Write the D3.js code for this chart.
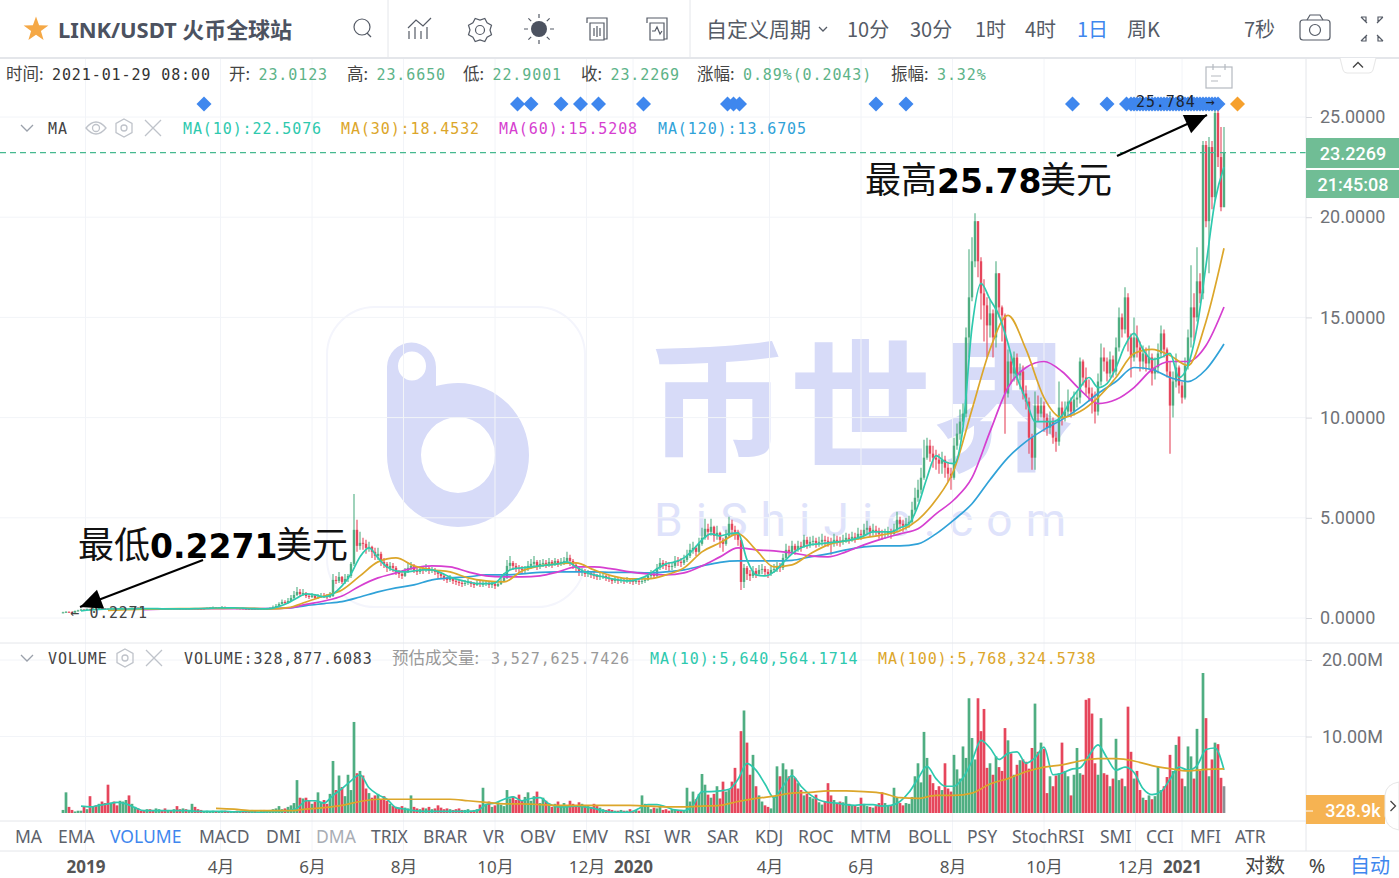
<!DOCTYPE html>
<html><head><meta charset="utf-8"><style>html,body{margin:0;padding:0;background:#fff;overflow:hidden}svg{display:block}</style>
<script src="https://cdn.jsdelivr.net/npm/d3@7/dist/d3.min.js"></script></head><body><div id="c"></div>
<script>
// two-day bars (one row = 20 bars)
const closes=[
.28,.31,.30,.27,.35,.38,.42,.40,.44,.42,.47,.44,.50,.48,.46,.44,.47,.43,.42,.44,
.45,.48,.46,.50,.52,.48,.46,.44,.46,.45,.44,.46,.47,.46,.45,.47,.46,.47,.46,.45,
.46,.45,.47,.48,.47,.46,.45,.47,.50,.52,.54,.50,.52,.55,.53,.50,.52,.49,.47,.48,
.46,.45,.44,.45,.44,.45,.46,.45,.46,.50,.55,.60,.70,.80,.75,.85,1.00,1.15,1.30,1.20,
1.25,1.10,1.05,1.12,1.00,1.05,1.10,1.08,1.05,1.10,1.90,1.85,2.05,1.80,1.95,2.10,2.70,4.40,3.60,3.75,
3.7,3.5,3.55,3.3,3.1,3.2,2.8,2.7,2.5,2.6,2.5,2.3,2.2,2.1,2.35,2.5,2.6,2.4,2.3,2.45,
2.4,2.5,2.35,2.4,2.3,2.2,2.1,2.0,1.9,2.0,1.85,1.8,1.75,1.7,1.75,1.8,1.7,1.65,1.75,1.7,
1.7,1.75,1.65,1.7,1.6,1.7,1.85,2.0,2.6,2.75,2.6,2.5,2.45,2.4,2.45,2.6,2.7,2.8,2.6,2.7,
2.75,2.7,2.8,2.65,2.85,2.7,2.8,2.85,3.0,2.85,2.65,2.5,2.3,2.35,2.2,2.25,2.15,2.1,2.05,2.1,
2.1,2.0,1.95,1.85,1.9,1.85,1.9,1.85,1.9,1.85,1.8,1.85,1.8,1.85,1.9,2.1,2.2,2.1,2.5,2.75,
2.65,2.6,2.55,2.6,2.85,2.8,2.75,2.9,3.1,3.4,3.5,3.3,3.7,4.0,4.45,4.3,4.55,4.1,4.25,3.9,
3.7,4.1,4.7,4.4,4.3,3.9,1.8,2.5,2.2,2.1,2.35,2.2,2.4,2.45,2.3,2.2,2.4,2.45,2.55,2.5,
3.0,3.4,3.3,3.6,3.4,3.6,3.55,3.9,3.7,3.8,3.85,3.75,3.8,3.9,3.85,3.8,3.75,3.9,3.85,3.8,
3.9,4.0,3.95,4.05,4.0,4.2,4.15,4.4,4.5,4.3,4.4,4.35,4.2,4.15,4.2,4.3,4.2,4.4,4.9,4.7,
4.6,4.7,4.8,5.4,6.0,6.4,7.0,8.0,8.6,8.2,8.0,7.9,7.7,7.9,7.5,7.2,7.0,8.6,9.2,9.8,
10.2,14.0,16.0,17.8,19.8,17.8,16.2,15.6,14.6,15.2,14.0,17.2,15.5,15.1,11.2,12.8,12.2,13.0,12.1,12.3,
11.2,10.8,9.0,8.0,10.6,10.2,10.6,10.0,9.5,9.8,9.0,8.8,10.5,10.0,10.3,10.8,10.3,10.9,11.0,12.8,
12.0,11.5,11.2,10.8,10.3,11.8,13.0,12.8,12.2,12.9,12.3,13.5,15.0,14.4,16.0,14.0,13.0,14.0,13.5,12.8,
13.2,12.7,13.0,12.2,12.5,13.2,14.2,13.4,12.3,10.6,11.8,12.5,11.6,11.0,12.6,14.0,15.5,15.0,16.8,16.2,
23.6,19.8,23.5,21.0,25.2,23.0,20.5,23.2269];
const highs=[
.31,.34,.33,.32,.38,.41,.46,.44,.47,.46,.52,.48,.56,.52,.50,.47,.50,.47,.45,.46,
.47,.50,.49,.52,.55,.53,.49,.47,.48,.47,.46,.48,.49,.48,.47,.49,.48,.49,.48,.47,
.48,.47,.49,.50,.49,.48,.47,.49,.53,.55,.58,.55,.54,.60,.57,.54,.55,.53,.50,.50,
.49,.47,.46,.47,.46,.47,.48,.47,.48,.54,.62,.70,.78,.92,.88,1.0,1.15,1.35,1.55,1.45,
1.45,1.3,1.2,1.25,1.2,1.2,1.25,1.25,1.2,1.3,2.2,2.1,2.3,2.1,2.2,2.2,2.8,6.19,4.9,4.3,
4.0,3.9,3.8,3.6,3.5,3.5,3.3,3.0,2.8,2.8,2.75,2.6,2.4,2.3,2.5,2.75,2.8,2.7,2.5,2.6,
2.6,2.7,2.55,2.55,2.5,2.4,2.3,2.2,2.05,2.15,2.05,1.95,1.9,1.85,1.9,1.95,1.85,1.8,1.9,1.85,
1.85,1.9,1.8,1.85,1.75,1.85,2.0,2.25,2.9,3.1,2.85,2.75,2.65,2.6,2.6,2.85,2.95,3.1,2.9,2.9,
2.95,2.9,3.0,2.9,3.0,2.95,3.0,3.05,3.3,3.15,2.95,2.75,2.6,2.5,2.45,2.4,2.35,2.3,2.2,2.25,
2.25,2.15,2.1,2.0,2.05,2.0,2.05,2.0,2.05,2.0,1.95,2.0,1.95,2.0,2.05,2.3,2.4,2.3,2.7,3.0,
2.9,2.85,2.8,2.8,3.1,3.05,3.0,3.15,3.4,3.7,3.8,3.6,4.0,4.5,4.95,4.7,4.95,4.6,4.6,4.3,
4.0,4.4,5.05,4.9,4.6,4.4,3.9,2.7,2.6,2.4,2.6,2.5,2.65,2.7,2.6,2.45,2.65,2.7,2.8,2.75,
3.2,3.7,3.6,3.85,3.7,3.85,3.8,4.15,4.05,4.05,4.1,4.0,4.05,4.2,4.1,4.05,4.0,4.2,4.1,4.05,
4.15,4.25,4.2,4.3,4.25,4.5,4.4,4.7,4.85,4.6,4.7,4.6,4.5,4.4,4.45,4.55,4.45,4.7,5.3,5.05,
4.9,5.0,5.1,5.8,6.5,6.9,7.5,8.9,9.0,8.9,8.6,8.4,8.2,8.3,8.1,7.8,7.5,9.0,9.7,10.4,
10.7,14.5,18.4,19.0,20.2,19.8,18.0,16.9,16.0,15.9,15.4,17.8,17.2,15.6,15.2,13.4,13.1,13.3,13.2,12.7,
12.6,11.6,11.0,9.2,11.3,11.1,11.0,10.8,10.2,10.3,10.0,9.3,11.8,10.8,10.8,11.4,11.0,11.3,11.3,13.0,
12.9,12.5,11.9,11.5,11.3,12.2,13.7,13.5,13.0,13.3,13.1,14.0,15.5,15.2,16.5,16.2,14.2,15.0,14.6,13.8,
13.6,13.5,13.6,13.2,13.0,13.7,14.6,14.4,13.5,12.8,12.3,13.2,12.6,11.8,13.0,14.4,17.6,16.2,18.5,17.2,
23.8,23.8,24.0,23.8,25.784,25.784,24.5,24.5];
const lows=[
.25,.26,.27,.2271,.26,.33,.36,.37,.39,.39,.40,.41,.43,.44,.43,.42,.42,.41,.40,.41,
.43,.44,.45,.45,.48,.46,.44,.42,.43,.43,.42,.43,.45,.44,.43,.44,.44,.45,.44,.43,
.44,.43,.44,.46,.45,.44,.43,.44,.46,.49,.51,.48,.49,.51,.50,.48,.49,.47,.45,.46,
.44,.43,.42,.43,.42,.43,.44,.43,.44,.45,.48,.53,.58,.68,.68,.72,.84,.95,1.1,1.05,
1.1,1.0,.95,1.0,.95,.95,1.0,1.0,.95,1.0,1.05,1.7,1.75,1.7,1.7,1.8,2.0,2.6,3.3,3.4,
3.4,3.2,3.3,3.0,2.9,2.9,2.6,2.5,2.3,2.35,2.3,2.15,2.0,1.95,2.05,2.25,2.4,2.25,2.15,2.2,
2.2,2.3,2.2,2.25,2.15,2.0,1.95,1.85,1.75,1.8,1.7,1.65,1.6,1.55,1.6,1.65,1.55,1.5,1.6,1.55,
1.55,1.6,1.5,1.5,1.45,1.55,1.65,1.8,1.95,2.4,2.4,2.3,2.25,2.2,2.25,2.35,2.45,2.55,2.4,2.45,
2.55,2.5,2.55,2.5,2.6,2.55,2.6,2.65,2.75,2.6,2.45,2.3,2.1,2.1,2.05,2.05,2.0,1.95,1.9,1.9,
1.95,1.85,1.8,1.7,1.75,1.7,1.75,1.7,1.75,1.7,1.65,1.7,1.65,1.7,1.75,1.85,2.0,1.95,2.0,2.4,
2.45,2.4,2.35,2.4,2.5,2.6,2.55,2.65,2.8,3.0,3.2,3.1,3.2,3.6,3.9,3.9,4.1,3.8,3.9,3.5,
3.3,3.6,4.0,4.1,3.9,3.6,1.4,1.5,1.9,1.85,2.0,2.0,2.1,2.2,2.1,2.0,2.1,2.25,2.3,2.3,
2.4,2.9,3.05,3.2,3.15,3.3,3.3,3.5,3.45,3.5,3.6,3.5,3.55,3.6,3.6,3.55,3.15,3.55,3.6,3.55,
3.65,3.75,3.7,3.8,3.75,3.9,3.9,4.1,4.2,4.05,4.1,4.1,3.95,3.9,3.95,4.05,3.95,4.15,4.3,4.4,
4.3,4.4,4.5,4.7,5.3,5.8,6.2,6.9,7.9,7.8,7.5,7.4,7.2,7.2,7.0,6.8,6.4,6.9,8.4,8.9,
9.6,10.0,13.0,15.8,17.5,17.0,14.9,13.8,13.0,14.0,13.0,13.5,15.0,13.8,9.2,11.0,11.7,11.8,11.6,11.4,
10.9,10.4,8.2,7.4,7.4,9.8,10.0,9.3,9.1,9.2,8.7,8.3,8.6,9.6,9.8,10.1,10.0,10.1,10.5,10.7,
11.6,11.1,10.8,10.2,9.7,10.1,11.6,12.3,11.8,12.0,12.0,12.1,13.3,14.0,14.2,13.3,12.0,12.8,13.0,12.3,
12.4,12.3,12.4,11.6,11.9,12.2,13.0,13.0,12.0,8.2,10.0,11.5,11.2,10.7,10.9,12.4,13.5,13.8,14.8,15.7,
15.9,19.5,17.2,20.4,20.8,22.5,20.3,20.6];
const volumes=[
.4,2.7,.8,.4,.2,.3,.3,.8,.5,2.2,.9,1.0,1.2,1.5,1.3,3.7,1.3,1.5,1.0,1.6,
1.5,1.7,2.3,1.2,.8,.6,.3,.4,.5,.5,.4,.6,.5,.4,.6,.4,.3,.5,.9,.5,
.6,.5,.4,1.2,.8,.5,.4,.2,.3,.2,.3,.2,.2,.3,.3,.2,.2,.2,.3,.2,
.2,.2,.3,.4,.3,.2,.4,.4,.3,.4,.5,.6,.9,.5,.6,.8,1.0,1.3,4.3,2.0,
1.9,2.0,1.7,1.2,1.5,2.7,1.4,1.7,1.2,2.5,6.8,3.0,4.9,3.4,2.2,5.0,3.0,11.9,5.2,5.5,
4.9,3.2,2.6,2.0,2.3,2.5,1.8,2.2,1.6,1.2,.9,.8,.7,.9,.7,.6,2.3,.8,.6,.5,
.7,.6,.8,.5,.6,1.0,.7,.5,.6,.5,.4,.5,.6,.4,.4,.5,.3,.4,.5,1.1,
3.3,1.2,1.5,.8,1.0,1.4,1.1,.9,3.0,1.9,2.2,1.7,2.4,1.6,2.1,2.7,1.6,2.2,2.8,1.3,
2.0,1.6,1.1,.8,1.2,1.5,1.0,1.3,1.0,1.6,1.2,.9,1.4,1.2,1.0,.9,.8,1.2,.9,.7,
.5,.4,.5,.4,.3,.3,.4,.3,.3,.5,.3,.4,.3,2.3,1.2,.8,.5,.7,.6,.8,
.4,.5,.3,.5,.4,.3,.4,.3,3.3,1.5,2.8,1.8,2.5,5.1,3.7,2.4,2.0,2.5,3.5,1.9,
4.1,2.8,3.0,4.1,5.9,3.2,10.7,13.4,9.2,5.0,7.6,3.5,2.3,1.5,1.0,.8,.6,2.0,6.1,4.8,
6.5,5.7,4.8,5.7,4.6,3.9,3.0,2.3,2.5,2.1,1.9,2.4,1.4,1.1,1.5,3.9,2.3,1.7,1.3,1.5,
1.4,2.2,1.2,1.0,1.0,.8,2.0,1.2,.9,.8,.7,.9,1.3,2.7,1.3,1.0,1.0,3.3,2.0,1.3,
1.0,1.3,1.2,2.1,4.8,6.5,4.0,10.6,7.2,5.0,3.9,3.0,3.5,3.0,6.5,3.2,2.8,7.6,5.7,4.5,
8.7,7.2,15.0,9.8,7.0,15.0,10.7,13.6,5.9,6.5,5.0,7.4,6.0,5.5,11.1,9.5,7.8,5.0,6.3,6.9,
7.0,6.7,5.8,8.5,14.3,8.0,9.2,8.4,2.6,4.8,3.5,4.9,5.2,9.2,5.5,4.8,2.3,5.0,8.5,5.2,
5.0,14.8,15.0,13.0,6.5,5.0,12.4,5.2,5.0,3.5,4.5,9.7,4.3,4.5,3.5,13.9,8.0,4.5,5.5,3.0,
2.0,1.7,2.3,1.8,2.2,6.1,3.0,3.5,4.7,7.6,5.5,8.9,10.0,4.5,3.5,8.7,7.4,4.5,11.0,5.5,
18.3,12.4,4.8,7.0,9.2,9.0,4.6,3.5];
// moving averages, one reading every 6 days (ma10) or 12 days (others), ending at the last bar
const ma10=[
.36,.40,.43,.45,.46,.45,.46,.47,.47,.46,
.46,.46,.46,.47,.48,.50,.51,.51,.49,.47,
.46,.47,.58,.75,1.0,1.2,1.15,1.05,1.2,1.6,
2.2,3.05,3.5,3.0,2.55,2.35,2.3,2.35,2.4,2.4,
2.25,2.05,1.9,1.8,1.72,1.72,1.75,2.2,2.45,2.5,
2.55,2.6,2.65,2.7,2.8,2.55,2.3,2.15,2.05,1.95,
1.88,1.85,1.95,2.15,2.45,2.7,2.8,3.0,3.4,3.9,
4.2,4.1,4.2,4.25,2.9,2.15,2.1,2.3,2.75,3.2,
3.5,3.65,3.7,3.75,3.8,3.85,3.95,4.1,4.3,4.3,
4.3,4.5,4.7,5.6,7.0,8.1,7.8,7.7,9.5,14.5,
16.7,15.9,15.1,13.7,12.0,10.9,9.8,9.8,9.8,10.1,
10.9,11.5,12.0,11.5,11.7,12.5,13.6,14.2,13.4,12.9,
13.0,13.2,12.0,12.6,14.5,17.6,20.8,22.5076];
const ma30=[
.38,.42,.44,.46,.47,.47,.48,.49,.48,
.46,.52,.8,1.1,1.4,2.1,2.8,3.0,2.6,
2.4,2.3,2.0,1.85,1.8,2.35,2.6,2.7,2.75,
2.4,2.1,1.95,1.95,2.15,2.5,3.3,3.75,4.2,
3.4,2.55,2.65,3.2,3.65,3.85,4.0,4.15,4.35,
4.9,5.9,7.4,10.4,13.4,15.1,13.4,11,10.0,
10.3,11.0,12.0,13.2,13.4,13.1,12.6,14.8,18.4532];
const ma60=[
.42,.44,.46,.46,.47,.47,.47,
.47,.49,.68,.85,1.1,1.6,2.0,2.25,2.5,
2.6,2.55,2.3,2.1,2.05,2.05,2.1,2.3,2.55,
2.55,2.45,2.3,2.2,2.15,2.25,2.6,3.05,3.5,
3.4,3.35,3.25,3.1,3.05,3.3,3.65,3.95,4.2,
4.45,5.2,5.9,7.0,9.3,11.5,12.5,12.8,12.3,
11.4,10.7,10.9,11.5,12.4,12.8,12.8,13.6,15.5208];
const ma120=[
.46,
.47,.50,.62,.72,.82,1.05,1.3,1.5,1.65,
1.9,2.0,2.05,2.15,2.15,2.2,2.28,2.3,2.3,
2.3,2.28,2.28,2.25,2.3,2.4,2.6,2.78,2.85,
2.85,2.85,2.88,3.05,3.2,3.4,3.55,3.6,3.6,
3.7,4.2,4.9,5.7,6.9,8.0,8.8,9.4,9.9,
10.5,11.2,11.8,12.5,12.4,12.0,11.8,12.4,13.6705];
const volMa10=[
.9,.8,1.0,1.2,1.4,1.2,.7,.3,.3,.3,
.3,.3,.3,.2,.2,.2,.2,.15,.2,.15,
.1,.2,.2,.3,.6,1.6,1.6,1.3,2.3,3.2,
4.2,5.0,3.3,2.4,1.8,.7,.5,.3,.2,.2,
.2,.2,.2,.2,.3,1.1,1.3,1.8,2.1,1.6,
1.9,2.0,1.2,.8,.8,.9,.8,.6,.3,.1,
.1,.1,.6,1.1,1.1,.8,.4,.3,1.0,2.8,
2.8,2.9,3.1,4.4,6.5,5.6,3.8,2.0,3.5,4.9,
3.5,2.4,1.7,1.4,1.3,1.1,1.0,1.1,1.1,.9,
1.0,1.5,2.7,4.5,6.1,4.5,3.5,3.5,4.6,6.8,
9.5,8.5,7.0,7.8,8.0,6.5,7.2,8.6,5.0,5.2,
5.7,5.9,7.5,8.9,7.2,5.6,6.0,5.3,3.2,2.4,
2.8,4.4,6.0,5.6,6.2,8.3,8.5,5.64];
const volMa100=[
.6,.5,.3,.3,.3,.5,.7,1.0,1.5,1.8,
1.8,1.8,1.8,1.8,1.6,1.4,1.2,1.2,1.1,1.0,
1.0,1.0,1.0,1.0,.9,.8,.8,.9,1.0,1.5,
1.9,2.2,2.6,2.7,2.9,2.9,2.8,2.6,2.0,1.9,
2.3,2.3,2.6,3.8,4.5,5.4,6.0,6.3,6.8,7.1,
7.1,6.8,6.2,5.8,5.5,5.7,5.77];
const priceTicks=[0,5,10,15,20,25];
const volumeTicks=[10,20];
const timeTicks=["2019-01-01","2019-04-01","2019-06-01","2019-08-01","2019-10-01","2019-12-01","2020-01-01","2020-04-01","2020-06-01","2020-08-01","2020-10-01","2020-12-01","2021-01-01"];
const timeTickLabels=["2019","4月","6月","8月","10月","12月","2020","4月","6月","8月","10月","12月","2021"];
const eventDaysBeforeEnd=[680,471,462,442,429,417,387,331,327,323,232,212,101,78,65,62,60,58,56,54,52,50,48,46,44,42,40,38,36,34,32,30,28,26,24,22,20,18,16,14,12,10,8,6,4];
const upcomingEventDays=[-9];
const indicators=["MA","EMA","VOLUME","MACD","DMI","DMA","TRIX","BRAR","VR","OBV","EMV","RSI","WR","SAR","KDJ","ROC","MTM","BOLL","PSY","StochRSI","SMI","CCI","MFI","ATR"];
const indicatorLeft=[15,58,110,199,266,316,371,423,483,520,572,624,664,707,755,798,850,908,967,1012,1100,1146,1190,1235];
const periods=["自定义周期","10分","30分","1时","4时","1日","周K","7秒"];
const periodLeft=[706,847,910,975,1025,1077,1127,1244];
const infoRow=[["时间:","2021-01-29 08:00",6,"#333"],["开:","23.0123",229],["高:","23.6650",347],["低:","22.9001",463],["收:","23.2269",581],["涨幅:","0.89%(0.2043)",697],["振幅:","3.32%",891]];

const W=1399,H=878,UP="#4fae82",DOWN="#e6465c",GRID="#f2f4f8",LINE="#e4e6ea",WM="#d7dbf8";
const C={ma10:"#2ec9ae",ma30:"#dca62a",ma60:"#d63fd0",ma120:"#30a2d8"};
const MONO="'DejaVu Sans Mono',monospace",SANS="'Noto Sans','Noto Sans CJK SC',sans-serif",CJK="'Noto Sans CJK SC',sans-serif";
const svg=d3.select("#c").append("svg").attr("width",W).attr("height",H);
const parse=d3.utcParse("%Y-%m-%d"),start=parse("2018-12-17"),end=parse("2021-01-29");
const x=d3.scaleUtc().domain([start,end]).range([63,1224]);
const y=d3.scaleLinear().domain([0,25]).range([618,117]);
const yv=d3.scaleLinear().domain([0,20]).range([813,660]);
const barDate=i=>d3.utcDay.offset(start,i*2);
const opens=closes.map((c,i)=>i?closes[i-1]:.27);
const back=(step,n)=>i=>d3.utcDay.offset(end,-(n-1-i)*step);
function t(g,s,px,py,o={}){return g.append("text").text(s).attr("x",px).attr("y",py).attr("font-family",o.f||SANS).attr("font-size",o.s||18).attr("fill",o.c||"#555").attr("font-weight",o.w||400).attr("text-anchor",o.a||"start").attr("letter-spacing",o.ls||null);}

// watermark
const wm=svg.append("g");
wm.append("rect").attr("x",327).attr("y",307).attr("width",258).attr("height",300).attr("rx",48).attr("fill","none").attr("stroke","#f4f5fc").attr("stroke-width",2);
wm.append("path").attr("fill",WM).attr("fill-rule","evenodd").attr("d","M387 367a24.5 24.5 0 0 1 49 0v19q12-3 22-3a71 72 0 1 1-71 72Z M398 366a14 14.5 0 1 0 28 0a14 14.5 0 1 0-28 0Z M421 455a37 38 0 1 0 74 0a37 38 0 1 0-74 0Z");
t(wm,"币世界",646,460,{f:CJK,s:143,c:WM,w:700});
t(wm,"BiShiJie.com",654,536,{f:"Roboto,sans-serif",s:46,c:"#dfe3fb"}).attr("textLength",412);

// grids
const grid=svg.append("g").attr("stroke",GRID);
grid.selectAll(".v").data(timeTicks).join("line").attr("x1",d=>x(parse(d))).attr("x2",d=>x(parse(d))).attr("y1",58).attr("y2",851);
grid.selectAll(".h").data(priceTicks).join("line").attr("x1",0).attr("x2",1306).attr("y1",d=>y(d)).attr("y2",d=>y(d));
grid.selectAll(".hv").data(volumeTicks).join("line").attr("x1",0).attr("x2",1306).attr("y1",d=>yv(d)).attr("y2",d=>yv(d));

// volume
const bw=2.7,isUp=i=>closes[i]>=opens[i];
svg.append("g").selectAll("rect").data(volumes).join("rect")
 .attr("x",(d,i)=>x(barDate(i))-bw/2).attr("width",bw).attr("y",d=>yv(d)).attr("height",d=>yv(0)-yv(d))
 .attr("fill",(d,i)=>i===volumes.length-1?"#8b8f94":isUp(i)?UP:DOWN);
const ln=(g,arr,step,sc,col,w=1.7)=>{const dt=back(step,arr.length);
 g.append("path").attr("fill","none").attr("stroke",col).attr("stroke-width",w).attr("stroke-linejoin","round")
 .attr("d",d3.line().x((d,i)=>x(dt(i))).y(d=>sc(d)).curve(d3.curveMonotoneX)(arr));};
const vl=svg.append("g");ln(vl,volMa10,6,yv,C.ma10);ln(vl,volMa100,12,yv,C.ma30);

// candles
const cg=svg.append("g");
cg.selectAll("line").data(closes).join("line").attr("x1",(d,i)=>x(barDate(i))).attr("x2",(d,i)=>x(barDate(i)))
 .attr("y1",(d,i)=>y(Math.max(highs[i],d,opens[i]))).attr("y2",(d,i)=>y(Math.min(lows[i],d,opens[i])))
 .attr("stroke",(d,i)=>isUp(i)?UP:DOWN).attr("stroke-width",1.1);
cg.selectAll("rect").data(closes).join("rect").attr("x",(d,i)=>x(barDate(i))-1.2).attr("width",2.4)
 .attr("y",(d,i)=>y(Math.max(d,opens[i]))).attr("height",(d,i)=>Math.max(1,Math.abs(y(d)-y(opens[i]))))
 .attr("fill",(d,i)=>isUp(i)?UP:DOWN);
const ml=svg.append("g");ln(ml,ma120,12,y,C.ma120);ln(ml,ma60,12,y,C.ma60);ln(ml,ma30,12,y,C.ma30);ln(ml,ma10,6,y,C.ma10);

// last price line
svg.append("line").attr("x1",0).attr("x2",1306).attr("y1",y(23.2269)).attr("y2",y(23.2269)).attr("stroke","#45b98f").attr("stroke-width",1.3).attr("stroke-dasharray","6,4");

// event diamonds
const dg=svg.append("g");
dg.selectAll(".b").data(eventDaysBeforeEnd).join("path").attr("d","M0-7.5L7.5 0L0 7.5L-7.5 0Z").attr("fill","#3f87ee").attr("transform",d=>`translate(${x(d3.utcDay.offset(end,-d))},104)`);
dg.selectAll(".o").data(upcomingEventDays).join("path").attr("d","M0-7.5L7.5 0L0 7.5L-7.5 0Z").attr("fill","#f6a02c").attr("transform",d=>`translate(${x(d3.utcDay.offset(end,-d))},104)`);

// frame
const fr=svg.append("g").attr("stroke",LINE);
[[0,58,1399,58],[0,643,1399,643],[0,821,1306,821],[0,851,1399,851],[1306,58,1306,851],[388,0,388,58],[690,0,690,58]].forEach(a=>fr.append("line").attr("x1",a[0]).attr("y1",a[1]).attr("x2",a[2]).attr("y2",a[3]).attr("stroke-width",a[1]===58&&a[3]===58?2:1));

// axes
function styleAxis(g){g.select(".domain").remove();g.selectAll(".tick line").attr("stroke","#d9dbe0");}
svg.append("g").attr("transform","translate(1306,0)").call(d3.axisRight(y).tickValues(priceTicks).tickSize(6).tickPadding(8).tickFormat(d3.format(".4f"))).call(styleAxis).call(g=>g.selectAll("text").attr("font-family","Roboto,sans-serif").attr("font-size",18).attr("fill","#6f7277"));
svg.append("g").attr("transform","translate(1306,0)").call(d3.axisRight(yv).tickValues(volumeTicks).tickSize(6).tickPadding(10).tickFormat(d=>d.toFixed(2)+"M")).call(styleAxis).call(g=>g.selectAll("text").attr("font-family","Roboto,sans-serif").attr("font-size",18).attr("fill","#6f7277"));
const tl=timeTicks.map(parse);
svg.append("g").attr("transform","translate(0,851)").call(d3.axisBottom(x).tickValues(tl).tickSize(0).tickPadding(10).tickFormat((d,i)=>timeTickLabels[i])).call(styleAxis)
 .call(g=>g.selectAll("text").attr("font-family",SANS).attr("font-size",17).attr("fill","#555").attr("font-weight",(d,i)=>/^20/.test(timeTickLabels[i])?700:400));
const ax=svg.append("g");
t(ax,"对数",1265,873,{s:20,c:"#444",a:"middle"});t(ax,"%",1317,873,{s:20,c:"#444",a:"middle"});t(ax,"自动",1370,873,{s:20,c:"#3f87ee",a:"middle"});

// price tags
const tg=svg.append("g");
tg.append("rect").attr("x",1306).attr("y",138).attr("width",93).attr("height",30).attr("fill","#70bd95");
tg.append("rect").attr("x",1306).attr("y",170).attr("width",93).attr("height",28).attr("fill","#70bd95");
t(tg,"23.2269",1353,160,{f:"Roboto,sans-serif",s:18,c:"#fff",a:"middle",w:500});
t(tg,"21:45:08",1353,191,{f:"Roboto,sans-serif",s:18,c:"#fff",a:"middle",w:500});
tg.append("rect").attr("x",1306).attr("y",795).attr("width",79).attr("height",29).attr("fill","#f6b352");
tg.append("line").attr("x1",1306).attr("x2",1313).attr("y1",811).attr("y2",811).attr("stroke","#fff");
t(tg,"328.9k",1353,817,{f:"Roboto,sans-serif",s:18,c:"#fff",a:"middle",w:500});
const chev=(g,px,py,dir,col,sz=5)=>g.append("path").attr("fill","none").attr("stroke",col).attr("stroke-width",1.3).attr("d",dir==="d"?`M${px-sz} ${py-sz/2}L${px} ${py+sz/2}L${px+sz} ${py-sz/2}`:dir==="u"?`M${px-sz} ${py+sz/2}L${px} ${py-sz/2}L${px+sz} ${py+sz/2}`:`M${px-sz/2} ${py-sz}L${px+sz/2} ${py}L${px-sz/2} ${py+sz}`);
tg.append("path").attr("d","M1340 58L1343 70Q1344 73 1347 73H1369Q1372 73 1373 70L1376 58").attr("fill","#fff").attr("stroke","#e6e6e6");
chev(tg,1358,65,"u","#444");
tg.append("path").attr("d","M1399 782Q1386 784 1385 795V816Q1386 828 1399 830Z").attr("fill","#fff").attr("stroke","#e6e6e6");
chev(tg,1393,806,"r","#444");

// toolbar
const tb=svg.append("g");
tb.append("path").attr("fill","#f5a846").attr("d",d3.range(10).map((i)=>{const r=i%2?5.2:13,a=-Math.PI/2+i*Math.PI/5;return (i?"L":"M")+(36+r*Math.cos(a)).toFixed(1)+" "+(29.5+r*Math.sin(a)).toFixed(1);}).join("")+"Z");
t(tb,"LINK/USDT 火币全球站",58,38,{f:SANS,s:22,c:"#4c5260",w:700}).attr("textLength",234);
const icon=tb.append("g").attr("fill","none").attr("stroke","#555b66").attr("stroke-width",1.2);
icon.append("circle").attr("cx",362).attr("cy",27).attr("r",8);icon.append("path").attr("d","M367 33L371 37");
icon.append("path").attr("d","M408 28L416 20L423 26L431 18M409 39V31M415 39V27M421 39V31M427 39V27");
icon.append("circle").attr("cx",480).attr("cy",30).attr("r",4.5);
icon.append("path").attr("d",d3.range(16).map(i=>{const r=i%2?12.5:10,a=i*Math.PI/8;return (i?"L":"M")+(480+r*Math.cos(a)).toFixed(1)+" "+(30+r*Math.sin(a)).toFixed(1);}).join("")+"Z");
tb.append("circle").attr("cx",539).attr("cy",29).attr("r",8).attr("fill","#4c5260");
icon.append("path").attr("d",d3.range(8).map(i=>{const a=i*Math.PI/4;return `M${(539+11*Math.cos(a)).toFixed(1)} ${(29+11*Math.sin(a)).toFixed(1)}L${(539+15*Math.cos(a)).toFixed(1)} ${(29+15*Math.sin(a)).toFixed(1)}`;}).join(""));
icon.append("path").attr("d","M587 23V18H607V39H604M590 23H604V40H590ZM594 28V36M597 26V37M600 28V36");
icon.append("path").attr("d","M647 23V18H667V39H664M650 23H664V40H650ZM652 31H655L657 27L660 34L662 31");
icon.append("rect").attr("x",1300).attr("y",20).attr("width",30).attr("height",20).attr("rx",3);
icon.append("circle").attr("cx",1315).attr("cy",30).attr("r",5.5);icon.append("path").attr("d","M1307 20L1310 15H1320L1323 20");
icon.append("path").attr("d","M1366 22V17H1361M1378 22V17H1383M1366 36V41H1361M1378 36V41H1383M1361 17L1367 23M1383 17L1377 23M1361 41L1367 35M1383 41L1377 35");
periods.forEach((p,i)=>t(tb,p,periodLeft[i],37,{f:CJK,s:p.length>4?21:20,c:p==="1日"?"#3f87ee":"#555b66"}));
chev(tb,823,29,"d","#555b66",4);

// info rows
const info=svg.append("g");
const ms=(g,s,px,py,c,o={})=>t(g,s,px,py,{f:MONO,s:15,c,ls:.9,...o});
infoRow.forEach(([lab,val,px,cc])=>{const cw=lab.replace(":","").length*16.5;
 t(info,lab,px,80,{f:CJK,s:16.5,c:"#444"});ms(info,val,px+cw+13,80,cc||"#5db388");});
[[27,128],[27,658]].forEach(a=>chev(info,a[0],a[1],"d","#9aa0aa",6));
ms(info,"MA",48,134,"#444");
ms(info,"MA(10):22.5076",183,134,C.ma10);ms(info,"MA(30):18.4532",341,134,C.ma30);ms(info,"MA(60):15.5208",499,134,C.ma60);ms(info,"MA(120):13.6705",658,134,C.ma120);
ms(info,"VOLUME",48,664,"#444");ms(info,"VOLUME:328,877.6083",184,664,"#444");
t(info,"预估成交量:",392,664,{f:CJK,s:16.5,c:"#999"});ms(info,"3,527,625.7426",491,664,"#999");
ms(info,"MA(10):5,640,564.1714",650,664,C.ma10);ms(info,"MA(100):5,768,324.5738",878,664,C.ma30);
const ic=info.append("g").attr("fill","none").attr("stroke","#bfc3ca").attr("stroke-width",1.3);
ic.append("path").attr("d","M86 128Q96 116 106 128Q96 140 86 128Z");ic.append("circle").attr("cx",96).attr("cy",128).attr("r",3.5);
[[124,128],[125,658]].forEach(a=>{ic.append("path").attr("d",`M${a[0]} ${a[1]-9}L${a[0]+8} ${a[1]-4.5}V${a[1]+4.5}L${a[0]} ${a[1]+9}L${a[0]-8} ${a[1]+4.5}V${a[1]-4.5}Z`);ic.append("circle").attr("cx",a[0]).attr("cy",a[1]).attr("r",3);});
[[153,128],[154,658]].forEach(a=>ic.append("path").attr("d",`M${a[0]-8} ${a[1]-8}L${a[0]+8} ${a[1]+8}M${a[0]+8} ${a[1]-8}L${a[0]-8} ${a[1]+8}`));
const cal=info.append("g").attr("fill","none").attr("stroke","#b5b9c0").attr("stroke-width",1.2);
cal.append("rect").attr("x",1206).attr("y",67).attr("width",26).attr("height",21);cal.append("path").attr("d","M1213 64V70M1225 64V70M1211 76H1221M1211 81H1218");

// indicator tabs
const tabs=svg.append("g");
indicators.forEach((s,i)=>t(tabs,s,indicatorLeft[i],843,{s:17.5,c:s==="VOLUME"?"#3f87ee":s==="DMA"?"#a9adb4":"#5d626b",f:SANS}));

// annotations
const an=svg.append("g");
ms(an,"25.784 →",1136,107,"#1c2530",{s:15});
ms(an,"← 0.2271",70,618,"#444",{s:15,ls:.7});
const big=(py,parts)=>{parts.forEach(p=>t(an,p[0],p[1],py,p[2]?{f:"'DejaVu Sans',sans-serif",s:33,c:"#000",w:700}:{f:CJK,s:36,c:"#111"}));};
big(193,[["最高",865],["25.78",937,1],["美元",1040]]);
big(558,[["最低",78],["0.2271",150,1],["美元",276]]);
const arrow=(x1,y1,x2,y2)=>{an.append("line").attr("x1",x1).attr("y1",y1).attr("x2",x2).attr("y2",y2).attr("stroke","#000").attr("stroke-width",2);
 const a=Math.atan2(y2-y1,x2-x1),L=22,Wd=10,bx=x2-L*Math.cos(a),by=y2-L*Math.sin(a);
 an.append("path").attr("fill","#000").attr("d",`M${x2} ${y2}L${bx-Wd*Math.sin(a)} ${by+Wd*Math.cos(a)}L${bx+Wd*Math.sin(a)} ${by-Wd*Math.cos(a)}Z`);};
arrow(1117,156,1207,115);arrow(203,560,80,607);
</script></body></html>
